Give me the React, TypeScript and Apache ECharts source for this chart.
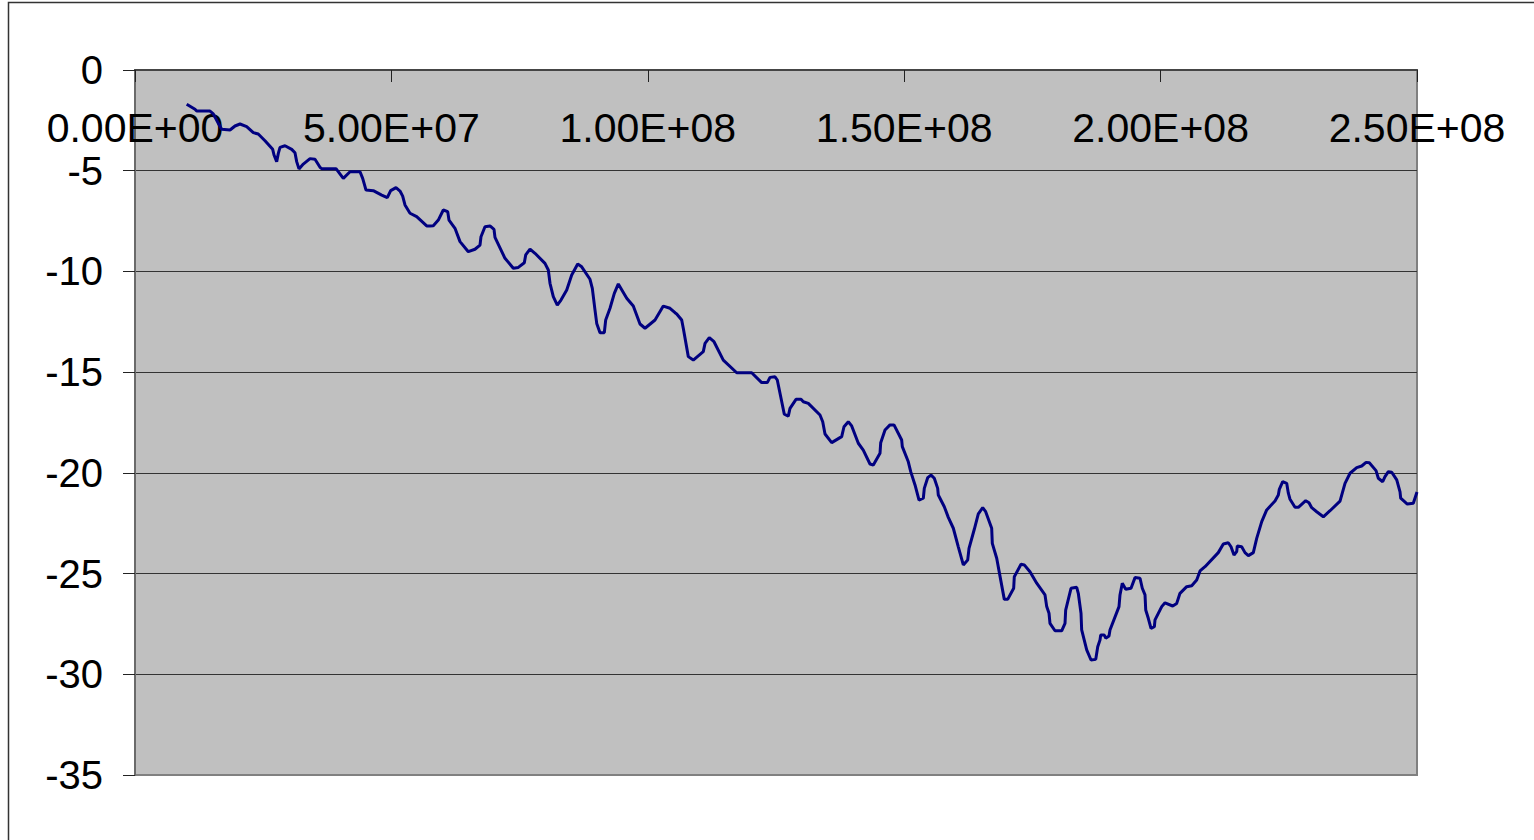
import React, { useEffect, useRef } from "react";
import * as echarts from "echarts";

// x positions in millions (1e6)
const xMillions: number[] = [
  10.08, 11.70, 12.03, 14.63, 15.27, 16.24, 16.91, 18.53, 19.50, 20.48,
  21.78, 23.07, 24.04, 25.35, 26.85, 27.11, 27.63, 27.95, 28.28, 29.25,
  30.56, 31.20, 31.53, 31.98, 32.82, 34.13, 35.10, 36.08, 36.41, 39.20,
  40.62, 41.93, 43.88, 44.40, 45.05, 46.47, 48.11, 49.20, 49.86, 50.90,
  51.68, 52.20, 52.65, 53.63, 54.93, 56.88, 57.53, 58.17, 59.15, 60.12,
  60.98, 61.23, 62.40, 63.38, 65.00, 66.30, 67.28, 67.47, 68.25, 69.23,
  70.01, 70.20, 72.15, 73.77, 74.75, 75.92, 76.19, 77.03, 78.00, 79.95,
  80.60, 80.93, 81.57, 82.35, 83.07, 84.19, 85.16, 86.33, 87.11, 88.73,
  89.18, 89.70, 90.04, 90.68, 91.52, 91.79, 92.63, 93.47, 94.25, 95.89,
  97.17, 98.48, 99.46, 101.41, 103.02, 104.33, 105.31, 105.64, 106.61, 106.92,
  107.90, 108.87, 110.82, 111.16, 111.99, 112.91, 114.72, 117.34, 120.26, 122.21,
  123.30, 123.83, 124.81, 125.25, 125.78, 126.62, 127.40, 127.73, 128.90, 129.88,
  130.33, 131.30, 133.58, 134.11, 134.56, 135.86, 137.81, 138.26, 139.10, 139.76,
  141.05, 142.02, 143.33, 143.98, 145.28, 145.42, 146.26, 147.23, 148.01, 149.51,
  149.63, 150.80, 151.27, 152.11, 152.89, 153.73, 153.92, 154.58, 155.23, 155.87,
  156.53, 156.65, 157.82, 158.60, 159.58, 160.55, 161.53, 162.38, 162.64, 163.67,
  164.45, 165.31, 165.89, 167.06, 167.18, 168.04, 168.88, 169.52, 170.18, 171.35,
  171.47, 172.78, 173.42, 174.53, 175.84, 177.46, 177.79, 178.24, 178.43, 179.41,
  180.71, 181.36, 181.49, 182.53, 183.64, 183.95, 184.48, 184.61, 185.59, 186.43,
  187.35, 187.74, 188.18, 188.32, 189.02, 189.30, 189.94, 190.13, 191.89, 192.08,
  192.53, 193.20, 194.23, 195.01, 195.99, 196.43, 196.96, 197.10, 197.60, 198.13,
  198.78, 198.91, 200.22, 200.86, 202.36, 203.14, 203.78, 205.09, 206.07, 207.04,
  207.69, 208.66, 211.25, 212.23, 213.20, 213.73, 214.31, 214.84, 214.96, 215.81,
  216.46, 217.11, 218.08, 218.74, 219.72, 220.69, 222.31, 222.96, 223.15, 223.81,
  224.59, 224.91, 225.24, 226.21, 226.86, 228.30, 228.94, 229.47, 230.44, 231.73,
  233.04, 234.99, 235.96, 236.94, 238.24, 239.22, 240.06, 240.70, 242.01, 242.46,
  243.31, 243.76, 244.41, 245.07, 246.05, 246.69, 246.82, 248.11, 249.28, 250.00,
];

const yValues: number[] = [
  -1.70, -1.95, -2.04, -2.04, -2.18, -2.65, -2.94, -2.98, -2.78, -2.68,
  -2.81, -3.11, -3.18, -3.51, -3.94, -4.22, -4.55, -4.14, -3.84, -3.76,
  -3.94, -4.11, -4.55, -4.91, -4.67, -4.40, -4.43, -4.83, -4.90, -4.90,
  -5.38, -5.05, -5.05, -5.38, -5.96, -5.99, -6.21, -6.34, -5.99, -5.84,
  -6.01, -6.26, -6.70, -7.11, -7.28, -7.74, -7.74, -7.73, -7.45, -6.95,
  -7.03, -7.45, -7.86, -8.52, -9.02, -8.90, -8.69, -8.28, -7.78, -7.74,
  -7.91, -8.31, -9.35, -9.84, -9.80, -9.57, -9.18, -8.89, -9.10, -9.60,
  -9.93, -10.59, -11.25, -11.67, -11.42, -10.92, -10.18, -9.63, -9.77, -10.39,
  -10.84, -11.91, -12.58, -13.04, -13.04, -12.41, -11.83, -11.09, -10.62, -11.33,
  -11.72, -12.61, -12.82, -12.41, -11.72, -11.83, -12.05, -12.11, -12.41, -12.82,
  -14.23, -14.40, -13.98, -13.57, -13.29, -13.49, -14.40, -15.03, -15.03, -15.52,
  -15.52, -15.26, -15.23, -15.39, -16.05, -17.09, -17.18, -16.80, -16.35, -16.35,
  -16.47, -16.55, -17.13, -17.46, -18.07, -18.50, -18.20, -17.71, -17.46, -17.67,
  -18.53, -18.87, -19.56, -19.61, -19.03, -18.50, -17.87, -17.62, -17.62, -18.37,
  -18.70, -19.45, -19.94, -20.60, -21.35, -21.26, -20.77, -20.24, -20.11, -20.27,
  -20.77, -21.10, -21.68, -22.21, -22.75, -23.67, -24.57, -24.33, -23.75, -22.80,
  -22.04, -21.73, -21.93, -22.75, -23.50, -24.24, -25.40, -26.28, -26.28, -25.73,
  -25.16, -24.54, -24.57, -24.91, -25.48, -26.06, -26.64, -26.97, -27.47, -27.84,
  -27.84, -27.47, -26.81, -25.73, -25.68, -25.98, -26.97, -27.80, -28.79, -29.29,
  -29.26, -28.63, -28.30, -28.05, -28.05, -28.21, -28.10, -27.80, -26.64, -26.06,
  -25.48, -25.78, -25.73, -25.20, -25.23, -25.73, -26.06, -26.81, -27.22, -27.72,
  -27.64, -27.30, -26.64, -26.45, -26.61, -26.48, -25.98, -25.65, -25.60, -25.32,
  -24.87, -24.66, -23.96, -23.53, -23.47, -23.67, -24.08, -23.91, -23.63, -23.67,
  -23.96, -24.11, -23.96, -23.25, -22.42, -21.84, -21.40, -21.10, -20.82, -20.44,
  -20.52, -21.01, -21.31, -21.71, -21.71, -21.38, -21.48, -21.73, -21.93, -22.18,
  -21.88, -21.40, -20.52, -20.02, -19.74, -19.66, -19.48, -19.50, -19.89, -20.27,
  -20.44, -20.19, -19.94, -19.97, -20.35, -20.94, -21.26, -21.55, -21.51, -20.95,
];

const xTickMin = 0;
const xTickMax = 2.5e8;
const xTickStep = 5e7;
const yTickMin = -35;
const yTickMax = 0;
const yTickStep = 5;

function sciLabel(v: number): string {
  const [m, e] = v.toExponential(2).split("e");
  const sign = e[0] === "-" ? "-" : "+";
  const digits = e.replace(/^[+-]/, "").padStart(2, "0");
  return `${m}E${sign}${digits}`;
}

export default function App() {
  const ref = useRef<HTMLDivElement>(null);

  useEffect(() => {
    if (!ref.current) return;
    const chart = echarts.init(ref.current, undefined, { renderer: "svg" });
    const data = xMillions.map((x, i) => [x * 1e6, yValues[i]]);
    const font = 'Arial, "Liberation Sans", sans-serif';

    chart.setOption({
      animation: false,
      backgroundColor: "#ffffff",
      graphic: [
        {
          type: "rect",
          shape: { x: 8.5, y: 2.5, width: 1600, height: 1000 },
          style: { fill: "none", stroke: "#333333", lineWidth: 1.5 },
          silent: true,
          z: -10,
        },
      ],
      grid: {
        left: 135,
        top: 70,
        right: 117,
        bottom: 65,
        show: true,
        backgroundColor: "#c0c0c0",
        borderColor: "#808080",
        borderWidth: 2,
      },
      xAxis: {
        type: "value",
        position: "top",
        min: xTickMin,
        max: xTickMax,
        interval: xTickStep,
        axisLine: { show: true, lineStyle: { color: "#454545", width: 2 } },
        axisTick: { show: true, inside: true, length: 12, lineStyle: { color: "#222", width: 1 } },
        axisLabel: {
          inside: true,
          margin: 37,
          fontSize: 41,
          fontFamily: font,
          color: "#000",
          formatter: (v: number) => sciLabel(v),
        },
        splitLine: { show: false },
      },
      yAxis: {
        type: "value",
        min: yTickMin,
        max: yTickMax,
        interval: yTickStep,
        axisLine: { show: true, lineStyle: { color: "#6a6a6a", width: 2 } },
        axisTick: { show: true, inside: false, length: 12, lineStyle: { color: "#222", width: 1 } },
        axisLabel: {
          margin: 32,
          fontSize: 40,
          fontFamily: font,
          color: "#000",
        },
        splitLine: {
          show: true,
          showMinLine: false,
          showMaxLine: false,
          lineStyle: { color: "#333333", width: 1 },
        },
      },
      series: [
        {
          type: "line",
          data,
          showSymbol: false,
          symbol: "none",
          clip: false,
          lineStyle: { color: "#000080", width: 3 },
          z: 5,
        },
      ],
    });

    return () => chart.dispose();
  }, []);

  return (
    <div
      ref={ref}
      style={{ position: "absolute", left: 0, top: 0, width: 1534, height: 840 }}
    />
  );
}
